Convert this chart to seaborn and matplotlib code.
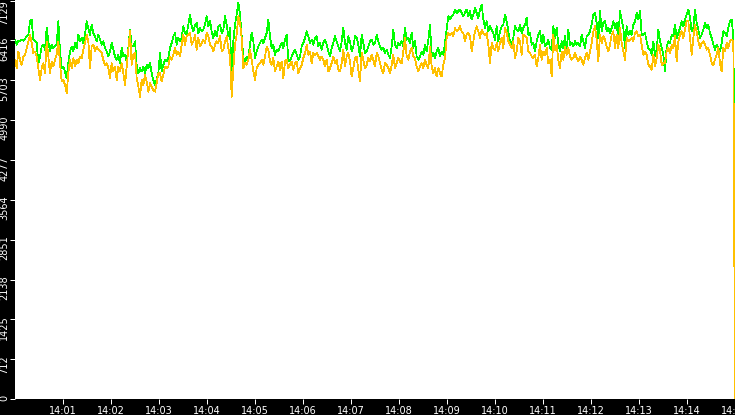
import matplotlib
matplotlib.use("Agg")
import matplotlib.pyplot as plt
import matplotlib.dates as mdates
from matplotlib.transforms import ScaledTranslation
import seaborn as sns
import pandas as pd

# values, 14:00 -> 14:15
green = [
    6430, 6340, 6412, 6400, 6430, 6412, 6448, 6490, 6520, 6760,
    6790, 6430, 6412, 6370, 6010, 6130, 6310, 6340, 6250, 6640,
    6400, 6220, 6340, 6280, 6310, 6340, 6760, 6220, 5920, 5950,
    5860, 5740, 6010, 6220, 6310, 6220, 6370, 6280, 6520, 6400,
    6460, 6370, 6520, 6760, 6640, 6520, 6700, 6550, 6490, 6400,
    6520, 6430, 6340, 6400, 6280, 6220, 6130, 6220, 6370, 6250,
    6130, 6070, 6160, 6010, 6280, 6130, 6160, 6040, 6280, 6610,
    6310, 6310,
    6400, 5980, 5830, 5920, 5860, 5950, 5830, 5980, 5920, 6010,
    5830, 5710, 5620, 5710, 5830, 6190, 5860, 5980, 6070, 6040,
    6100, 6280, 6370, 6490, 6550, 6340, 6460, 6400, 6460, 6670,
    6550, 6520, 6700, 6880, 6670, 6580, 6700, 6730, 6550, 6640,
    6580, 6610, 6700, 6850, 6670, 6760, 6580, 6460, 6580, 6490,
    6670, 6700, 6550, 6610, 6850, 6700, 6490, 6640, 5710, 6400,
    6700, 6880, 7090, 6880, 6490, 6100, 6010, 6130, 6100, 6340,
    6550, 6400,
    6100, 6220, 6310, 6370, 6430, 6370, 6460, 6550, 6790, 6490,
    6280, 6340, 6160, 6250, 6220, 6310, 6370, 6280, 6430, 6520,
    6070, 6040, 6130, 6190, 6250, 6160, 6070, 6130, 6310, 6370,
    6460, 6580, 6490, 6370, 6430, 6340, 6460, 6490, 6310, 6370,
    6250, 6370, 6430, 6340, 6220, 6130, 6280, 6370, 6490, 6400,
    6310, 6220, 6400, 6640, 6370, 6250, 6490, 6400, 6220, 6310,
    6490, 6460, 6340, 6130, 6520, 6370, 6190, 6220, 6310, 6400,
    6430, 6340,
    6370, 6520, 6400, 6310, 6250, 6280, 6190, 6250, 6160, 6100,
    6310, 6610, 6340, 6280, 6370, 6340, 6400, 6310, 6640, 6430,
    6460, 6370, 6550, 6280, 6400, 6130, 6070, 6130, 6220, 6160,
    6340, 6220, 6430, 6700, 6130, 6190, 6100, 6220, 6280, 6130,
    6220, 6160, 6370, 6610, 6850, 6790, 6850, 6880, 6970, 6910,
    6940, 6970, 6910, 6850, 6910, 6970, 6850, 6940, 6790, 6880,
    7000, 6910, 6820, 6970, 7060, 6790, 6640, 6760, 6580, 6670,
    6610, 6550,
    6430, 6670, 6400, 6580, 6670, 6700, 6880, 6760, 6580, 6400,
    6340, 6460, 6670, 6610, 6580, 6700, 6550, 6640, 6700, 6820,
    6520, 6550, 6340, 6370, 6220, 6400, 6520, 6580, 6370, 6520,
    6310, 6340, 6430, 6280, 6250, 6670, 6460, 6640, 6340, 6220,
    6400, 6280, 6490, 6220, 6610, 6340, 6370, 6310, 6400, 6340,
    6370, 6310, 6520, 6400, 6280, 6490, 6520, 6580, 6700, 6880,
    6910, 6730, 6460, 6940, 6580, 6730, 6760, 6580, 6640, 6550,
    6640, 6760,
    6640, 6730, 6430, 6940, 6790, 6640, 6280, 6670, 6520, 6580,
    6520, 6700, 6760, 6910, 6790, 6940, 6520, 6520, 6550, 6400,
    6280, 6250, 6160, 6400, 6130, 6250, 6610, 6400, 6280, 6160,
    5860, 6310, 6400, 6370, 6520, 6490, 6700, 6460, 6550, 6640,
    6760, 6670, 6790, 6880, 6970, 6820, 6580, 6640, 6970, 6730,
    6610, 6460, 6520, 6610, 6730, 6640, 6700, 6550, 6460, 6340,
    6250, 6340, 6280, 6220, 6370, 6580, 6550, 6490, 6640, 6760,
    6790, 6490, 3220,
]

orange = [
    6070, 5920, 6220, 6070, 5980, 6130, 6160, 6280, 6400, 6520,
    6370, 6190, 6220, 6130, 5920, 5710, 5920, 6010, 5830, 6400,
    6130, 5830, 6040, 5950, 6070, 6160, 6400, 6010, 5680, 5710,
    5620, 5470, 5830, 6070, 5920, 6100, 5950, 6070, 6010, 6130,
    6100, 6250, 6370, 6520, 6400, 5920, 6310, 6340, 6220, 6310,
    6250, 6220, 6190, 6070, 5980, 6010, 5920, 5740, 6010, 5860,
    5950, 5710, 5950, 5860, 6010, 5830, 5620, 5950, 6250, 6580,
    5980, 6160,
    6190, 5740, 5590, 5410, 5710, 5620, 5800, 5680, 5500, 5650,
    5590, 5530, 5500, 5650, 5830, 5830, 5680, 5800, 5950, 5920,
    5950, 6130, 6070, 6160, 6280, 6160, 6220, 6130, 6340, 6520,
    6340, 6490, 6520, 6550, 6340, 6400, 6520, 6250, 6460, 6310,
    6370, 6430, 6370, 6550, 6490, 6340, 6310, 6220, 6340, 6400,
    6370, 6490, 6220, 6250, 6400, 6490, 6280, 6130, 5410, 5920,
    6340, 6520, 6850, 6730, 6460, 5920, 6010, 5980, 6070, 6250,
    6070, 5860,
    5710, 5920, 5980, 6010, 6070, 5980, 6130, 6310, 6250, 6040,
    5980, 6100, 5860, 5950, 6040, 5890, 6040, 5740, 6040, 6070,
    5920, 5980, 6040, 5890, 6010, 6040, 5830, 5920, 5980, 6100,
    6190, 6340, 6160, 6220, 6010, 6190, 6160, 6190, 6130, 6070,
    6130, 6070, 5950, 6070, 5860, 5920, 6010, 6130, 6010, 6070,
    5890, 5860, 6010, 6250, 5950, 6130, 6190, 6040, 5770, 5920,
    6100, 6130, 5890, 5680, 6190, 6070, 5920, 5980, 6100, 6040,
    6160, 6070,
    5950, 6190, 6130, 6010, 5890, 5830, 6010, 5980, 5920, 5830,
    5980, 6160, 5920, 6010, 6100, 6040, 6010, 6220, 6460, 6130,
    6070, 6220, 6280, 6130, 6100, 5950, 5860, 5950, 6010, 5920,
    6070, 5980, 5920, 6310, 5950, 5830, 5920, 5770, 5920, 5830,
    5770, 5980, 6100, 6460, 6550, 6520, 6550, 6490, 6640, 6580,
    6610, 6670, 6580, 6550, 6400, 6520, 6550, 6490, 6220, 6400,
    6580, 6670, 6580, 6460, 6610, 6550, 6520, 6550, 6340, 6010,
    6370, 6280,
    6250, 6370, 6220, 6370, 6460, 6280, 6640, 6550, 6400, 6340,
    6280, 6400, 6100, 6220, 6460, 6400, 6160, 6520, 6490, 6460,
    6220, 6190, 6130, 6100, 6160, 5950, 6100, 6340, 6070, 6220,
    6160, 6280, 6010, 6070, 5770, 6520, 6250, 6340, 6070, 5920,
    6220, 6070, 6310, 6160, 6280, 6130, 6070, 6100, 6190, 6100,
    6040, 6130, 6070, 5980, 6100, 6190, 6070, 6220, 6370, 6580,
    6670, 6430, 6040, 6520, 6370, 6490, 6430, 6310, 6220, 6340,
    6520, 6580,
    6280, 6520, 6280, 6640, 6370, 6220, 6070, 6460, 6400, 6430,
    6460, 6400, 6550, 6580, 6490, 6520, 6340, 6160, 6220, 6160,
    5980, 5950, 5890, 6160, 5950, 6100, 6340, 6250, 5980, 6010,
    6010, 6220, 6280, 6190, 6340, 6280, 6490, 6040, 6400, 6520,
    6580, 6460, 6610, 6760, 6760, 6460, 6160, 6460, 6700, 6580,
    6400, 6280, 6370, 6400, 6340, 6250, 6280, 6160, 6010, 5980,
    6070, 6160, 6280, 6010, 5860, 6280, 6220, 6370, 6280, 6400,
    6430, 6400, 0,
]

y_ticks = [0, 712, 1425, 2138, 2851, 3564, 4277, 4990, 5703, 6416, 7129]
start = "2024-01-01 14:00:00"
end = "2024-01-01 14:15:00"

sns.set_style("white")
plt.rcParams["font.family"] = ["DejaVu Sans"]

df = pd.DataFrame({
    "time": pd.date_range(start, end, periods=len(green)),
    "green": green,
    "orange": orange,
})

fig = plt.figure(figsize=(7.35, 4.15), dpi=100, facecolor="black")
ax = fig.add_axes([15 / 735, 16 / 415, 720 / 735, 399 / 415])
ax.set_facecolor("white")

sns.lineplot(data=df, x="time", y="green", color="#00ff00", lw=0.55, antialiased=False, ax=ax)
sns.lineplot(data=df, x="time", y="orange", color="#ffc000", lw=0.55, antialiased=False, ax=ax)

ax.set_xlim(pd.Timestamp(start), pd.Timestamp(end))
ax.set_ylim(0, 7140)
ax.set_yticks(y_ticks)
ax.set_yticklabels([str(v) for v in y_ticks], rotation=90, va="top")
ax.set_xticks(pd.date_range("2024-01-01 14:01:00", end, freq="1min"))
ax.xaxis.set_major_formatter(mdates.DateFormatter("%H:%M"))
ax.tick_params(bottom=True, left=True, colors="white", labelsize=7,
               length=3.6, width=0.72, direction="out")
ax.tick_params(axis="x", pad=1.5)
ax.tick_params(axis="y", pad=0.5)
for s in ax.spines.values():
    s.set_visible(False)
ax.set_xlabel("")
ax.set_ylabel("")

# nudge the rotated y labels up a few pixels so they end just above the tick
# (the top one stays put, it sits against the figure edge)
offset = ScaledTranslation(0, 3 / 72, fig.dpi_scale_trans)
for lab in ax.get_yticklabels()[:-1]:
    lab.set_transform(lab.get_transform() + offset)

fig.savefig("out.png", dpi=100, facecolor="black")
